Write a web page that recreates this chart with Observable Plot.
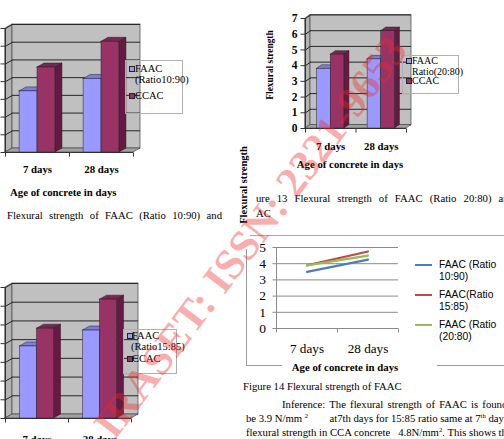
<!DOCTYPE html>
<html><head><meta charset="utf-8">
<script src="https://cdn.jsdelivr.net/npm/d3@7"></script>
<script src="https://cdn.jsdelivr.net/npm/@observablehq/plot@0.6"></script>
<style>
html,body{margin:0;padding:0;background:#fff;}
#page{position:relative;width:504px;height:439px;overflow:hidden;background:#fff;font-family:"Liberation Serif",serif;color:#000;}
#page svg{position:absolute;left:0;top:0;}
.t{position:absolute;line-height:1;white-space:nowrap;}
.ln{position:absolute;background:#9a9a9a;}
sup{font-size:0.62em;vertical-align:0.55em;line-height:0;}
</style></head><body><div id="page"></div>
<script>
// ---------- data ----------
const categories = ["7 days", "28 days"];
const barSeries = ["FAAC", "CCAC"];
const faac1090 = [3.45, 4.15];
const ccacFig12 = [4.8, 6.25];
const faac2080 = [3.8, 4.4];
const ccacFig13 = [4.7, 6.2];
const faac1585 = [3.85, 4.7];
const ccacFig15 = [4.8, 6.35];
const lineSeries = ["FAAC (Ratio 10:90)", "FAAC(Ratio 15:85)", "FAAC (Ratio (20:80)"];
const lineFaac1090 = [3.5, 4.25];
const lineFaac1585 = [3.9, 4.75];
const lineFaac2080 = [3.9, 4.5];
const barTicks = [0, 1, 2, 3, 4, 5, 6, 7];
const lineTicks = [0, 1, 2, 3, 4, 5];
const axisTitle = "Age of concrete in days";
const yTitle = "Flexural strength";
const legend1090 = ["FAAC", "(Ratio10:90)", "CCAC"];
const legend2080 = ["FAAC", "Ratio(20:80)", "CCAC"];
const legend1585 = ["FAAC", "(Ratio15:85)", "CCAC"];
const lineLegend = [["FAAC (Ratio", "10:90)"], ["FAAC(Ratio", "15:85)"], ["FAAC (Ratio", "(20:80)"]];

const COL = {
  faac: {front: "#9999ff", top: "#7c7ce0", side: "#6a6ac4"},
  ccac: {front: "#993366", top: "#7a2552", side: "#641a42"}
};
const lineColors = ["#4a7ebb", "#be4b48", "#98b954"];

const page = document.getElementById("page");
const SERIF = "Liberation Serif";

function addText(str, x, y, o = {}) {
  const d = document.createElement("div");
  d.className = "t";
  if (o.html) d.innerHTML = str; else d.textContent = str;
  d.style.left = x + "px";
  d.style.top = y + "px";
  d.style.fontFamily = o.family || SERIF;
  d.style.fontSize = (o.size || 10.7) + "px";
  d.style.fontWeight = o.weight || "normal";
  if (o.color) d.style.color = o.color;
  if (o.width) { d.style.width = o.width + "px"; d.style.textAlign = "justify"; d.style.textAlignLast = "justify"; }
  if (o.ls) d.style.letterSpacing = o.ls + "px";
  if (o.ws) d.style.wordSpacing = o.ws + "px";
  const ax = o.anchor === "middle" ? "-50%" : o.anchor === "end" ? "-100%" : "0";
  d.style.transform = `translate(${ax},-50%)`;
  if (o.rotate) { d.style.transform = `translate(-50%,-50%) rotate(${o.rotate}deg)`; }
  page.appendChild(d);
  return d;
}
function addLine(x, y, w, h, color) {
  const d = document.createElement("div");
  d.className = "ln";
  Object.assign(d.style, {left: x + "px", top: y + "px", width: w + "px", height: h + "px"});
  if (color) d.style.background = color;
  page.appendChild(d);
}
function addBox(x, y, w, h) {
  const d = document.createElement("div");
  Object.assign(d.style, {position: "absolute", left: x + "px", top: y + "px", width: w + "px", height: h + "px", border: "1px solid #b0b0b0", boxSizing: "border-box"});
  page.appendChild(d);
}
function addSquare(x, y, color) {
  const d = document.createElement("div");
  Object.assign(d.style, {position: "absolute", left: x + "px", top: (y - 3) + "px", width: "6px", height: "6px", background: color, border: "1px solid #222", boxSizing: "border-box"});
  page.appendChild(d);
}

// ---------- 3D clustered bar chart ----------
function bar3D({faac, ccac, x0, x1, y0, y7, ddx, ddy, bw, labelOff, yLabels}) {
  const ux = (x1 - x0) / 2, uy = (y0 - y7) / 7;
  const px = p => p / ux, py = p => p / uy;
  const dx = px(ddx), dy = py(ddy);
  const bars = [];
  categories.forEach((c, i) => {
    bars.push({id: "f" + i, x1: i + 0.5 - bw, x2: i + 0.5, v: faac[i], ...COL.faac});
    bars.push({id: "c" + i, x1: i + 0.5, x2: i + 0.5 + bw, v: ccac[i], ...COL.ccac});
  });
  const topPts = bars.flatMap(b => [
    {id: b.id, fill: b.top, x: b.x1, y1: b.v, y2: b.v},
    {id: b.id, fill: b.top, x: b.x1 + dx, y1: b.v, y2: b.v + dy},
    {id: b.id, fill: b.top, x: b.x2, y1: b.v, y2: b.v + dy},
    {id: b.id, fill: b.top, x: b.x2 + dx, y1: b.v + dy, y2: b.v + dy}
  ]);
  const sidePts = bars.flatMap(b => [
    {id: b.id, fill: b.side, x: b.x2, y1: 0, y2: b.v},
    {id: b.id, fill: b.side, x: b.x2 + dx, y1: dy, y2: b.v + dy}
  ]);
  const floorPts = [
    {x: 0, y1: 0, y2: 0}, {x: dx, y1: 0, y2: dy}, {x: 2, y1: 0, y2: dy}, {x: 2 + dx, y1: dy, y2: dy}
  ];
  const leftWall = [{x: 0, y1: 0, y2: 7}, {x: dx, y1: dy, y2: 7 + dy}];
  const marks = [
    Plot.areaY(leftWall, {x: "x", y1: "y1", y2: "y2", fill: "#b3b3b3", stroke: "#555", strokeWidth: 0.8}),
    Plot.rect([0], {x1: () => dx, x2: () => 2 + dx, y1: () => dy, y2: () => 7 + dy, fill: "#c0c0c0", stroke: "#555", strokeWidth: 0.8}),
    Plot.ruleY(barTicks, {y: d => d + dy, x1: () => dx, x2: () => 2 + dx, stroke: "#262626", strokeWidth: 1}),
    Plot.link(barTicks, {x1: () => 0, y1: d => d, x2: () => dx, y2: d => d + dy, stroke: "#262626", strokeWidth: 1}),
    Plot.areaY(floorPts, {x: "x", y1: "y1", y2: "y2", fill: "#a2a2a2", stroke: "#555", strokeWidth: 0.8}),
    Plot.ruleX([0], {y1: () => 0, y2: () => 7, stroke: "#333"}),
    Plot.link(barTicks, {x1: () => 0, x2: () => -px(5), y1: d => d, y2: d => d, stroke: "#333"}),
    Plot.ruleY([0], {x1: () => 0, x2: () => 2, stroke: "#333"}),
    Plot.link([0, 1, 2], {x1: d => d, x2: d => d, y1: () => 0, y2: () => -py(4), stroke: "#333"}),
    Plot.areaY(sidePts, {x: "x", y1: "y1", y2: "y2", z: "id", fill: "fill", stroke: "#2a0a1a", strokeWidth: 0.5}),
    Plot.areaY(topPts, {x: "x", y1: "y1", y2: "y2", z: "id", fill: "fill", stroke: "#222", strokeWidth: 0.5}),
    Plot.rect(bars, {x1: "x1", x2: "x2", y1: () => 0, y2: "v", fill: "front", stroke: "#222", strokeWidth: 0.5}),
    Plot.text(categories, {x: (d, i) => i + 0.5, y: () => -py(labelOff), text: d => d, fontWeight: "bold", fontSize: 10.8, fontFamily: SERIF, fill: "#000"})
  ];
  if (yLabels) marks.push(Plot.text(barTicks, {x: () => -px(8), y: d => d, text: d => String(d), textAnchor: "end", fontWeight: "bold", fontSize: 11.5, fontFamily: SERIF, fill: "#000"}));
  const svg = Plot.plot({
    width: 504, height: 439, margin: 0,
    x: {domain: [0, 2], range: [x0, x1], axis: null},
    y: {domain: [0, 7], range: [y0, y7], axis: null},
    color: {type: "identity"},
    style: {background: "transparent", overflow: "visible"},
    marks
  });
  page.appendChild(svg);
}

// ---------- line chart ----------
function lineChart() {
  const x0 = 276, x1 = 398, y0 = 328, y5 = 247;
  const ux = (x1 - x0) / 2, uy = (y0 - y5) / 5;
  const px = p => p / ux, py = p => p / uy;
  const vals = [lineFaac1090, lineFaac1585, lineFaac2080];
  const rows = [];
  vals.forEach((arr, s) => arr.forEach((v, i) => rows.push({s: lineSeries[s], c: lineColors[s], x: i + 0.5, y: v})));
  const svg = Plot.plot({
    width: 504, height: 439, margin: 0,
    x: {domain: [0, 2], range: [x0, x1], axis: null},
    y: {domain: [0, 5], range: [y0, y5], axis: null},
    color: {type: "identity"},
    style: {background: "transparent", overflow: "visible"},
    marks: [
      Plot.ruleY(lineTicks.slice(1), {y: d => d, x1: () => 0, x2: () => 2, stroke: "#8a8a8a", strokeWidth: 1}),
      Plot.ruleX([0], {y1: () => 0, y2: () => 5, stroke: "#8a8a8a"}),
      Plot.ruleY([0], {x1: () => 0, x2: () => 2, stroke: "#8a8a8a"}),
      Plot.link(lineTicks, {x1: () => 0, x2: () => -px(4), y1: d => d, y2: d => d, stroke: "#8a8a8a"}),
      Plot.link([0, 1, 2], {x1: d => d, x2: d => d, y1: () => 0, y2: () => -py(4), stroke: "#8a8a8a"}),
      Plot.line(rows, {x: "x", y: "y", z: "s", stroke: "c", strokeWidth: 2.2}),
      Plot.text(lineTicks, {x: () => -px(14), y: d => d, text: d => String(d), fontSize: 13.5, fontFamily: SERIF, fill: "#000"}),
      Plot.text(categories, {x: (d, i) => i + 0.5, y: () => -py(20), text: d => d, fontSize: 13.2, fontFamily: SERIF, fill: "#000"})
    ]
  });
  page.appendChild(svg);
}

// ---------- Figure 12 (top-left) ----------
bar3D({faac: faac1090, ccac: ccacFig12, x0: 5, x1: 133, y0: 152, y7: 28, ddx: 7, ddy: 4, bw: 0.28, labelOff: 17});
addBox(125, 60, 58, 54);
addSquare(129, 69, COL.faac.front); addText(legend1090[0], 135, 69, {size: 10.5});
addText(legend1090[1], 135, 80, {size: 10.5});
addSquare(129, 96, COL.ccac.front); addText(legend1090[2], 135, 96, {size: 10.5});
addText(axisTitle, 10, 192, {weight: "bold", size: 10.8});
addText("Flexural strength of FAAC (Ratio 10:90) and", 7, 215, {size: 10.7, width: 215});

// ---------- Figure 13 (top-right) ----------
bar3D({faac: faac2080, ccac: ccacFig13, x0: 305, x1: 406, y0: 128, y7: 18, ddx: 5, ddy: 3.5, bw: 0.27, labelOff: 18, yLabels: true});
addBox(402, 55, 57, 39);
addSquare(406, 61, COL.faac.front); addText(legend2080[0], 412, 61, {size: 10});
addText(legend2080[1], 412, 72, {size: 10});
addSquare(406, 81, COL.ccac.front); addText(legend2080[2], 412, 81, {size: 10});
addText(axisTitle, 350, 164, {weight: "bold", size: 10.8, anchor: "middle"});
addText(yTitle, 271, 65, {weight: "bold", size: 9.4, rotate: -90});
addText("ure 13 Flexural strength of FAAC (Ratio 20:80) and", 256, 198, {size: 10.7, width: 258});
addText("AC", 256, 213, {size: 10.7});

// ---------- Figure 15 (bottom-left) ----------
bar3D({faac: faac1585, ccac: ccacFig15, x0: 5, x1: 131, y0: 418, y7: 287, ddx: 7, ddy: 4, bw: 0.27, labelOff: 21});
addBox(123, 329, 54, 45);
addSquare(127, 336, COL.faac.front); addText(legend1585[0], 132, 336, {size: 10.5});
addText(legend1585[1], 131, 347, {size: 10.5});
addSquare(127, 359, COL.ccac.front); addText(legend1585[2], 132, 359, {size: 10.5});

// ---------- Figure 14 (line chart) ----------
addLine(250, 235, 254, 1, "#a8a8a8");
addLine(246, 249, 1, 116, "#9a9a9a");
addLine(246, 365, 36, 1, "#9a9a9a");
addLine(437, 365, 67, 1, "#9a9a9a");
lineChart();
lineLegend.forEach((lab, i) => {
  const y = 265 + i * 30;
  addLine(415, y - 1, 17, 2, lineColors[i]);
  addText(lab[0], 439, y, {family: "Liberation Sans", size: 10.3});
  addText(lab[1], 439, y + 12, {family: "Liberation Sans", size: 10.3});
});
addText(axisTitle, 345, 367, {weight: "bold", size: 10.8, anchor: "middle"});
addText(yTitle, 244, 185, {weight: "bold", size: 10.5, rotate: -90});
addText("Figure 14 Flexural strength of FAAC", 243, 386, {size: 10.7});
addText("Inference: The flexural strength of FAAC is found to", 282, 404, {size: 10.7, ws: 1.5});
addText("be 3.9 N/mm <sup>2</sup>&nbsp;&nbsp;&nbsp;&nbsp;&nbsp;&nbsp;&nbsp;&nbsp;at7th days for 15:85 ratio same at 7<sup>th</sup> day", 246, 418, {size: 10.7, html: true});
addText("flexural strength in CCA concrete &nbsp; 4.8N/mm<sup>2</sup>. This shows that", 246, 432, {size: 10.7, html: true});

// ---------- watermark ----------
const wm = document.createElement("div");
wm.textContent = "IRASET: ISSN: 2321-9653";
Object.assign(wm.style, {position: "absolute", left: "250px", top: "237px", transform: "translate(-50%,-50%) rotate(-53deg)", fontFamily: SERIF, fontWeight: "bold", fontSize: "43px", color: "rgba(240,40,40,0.4)", whiteSpace: "nowrap", lineHeight: "1", pointerEvents: "none"});
page.appendChild(wm);
</script></body></html>
